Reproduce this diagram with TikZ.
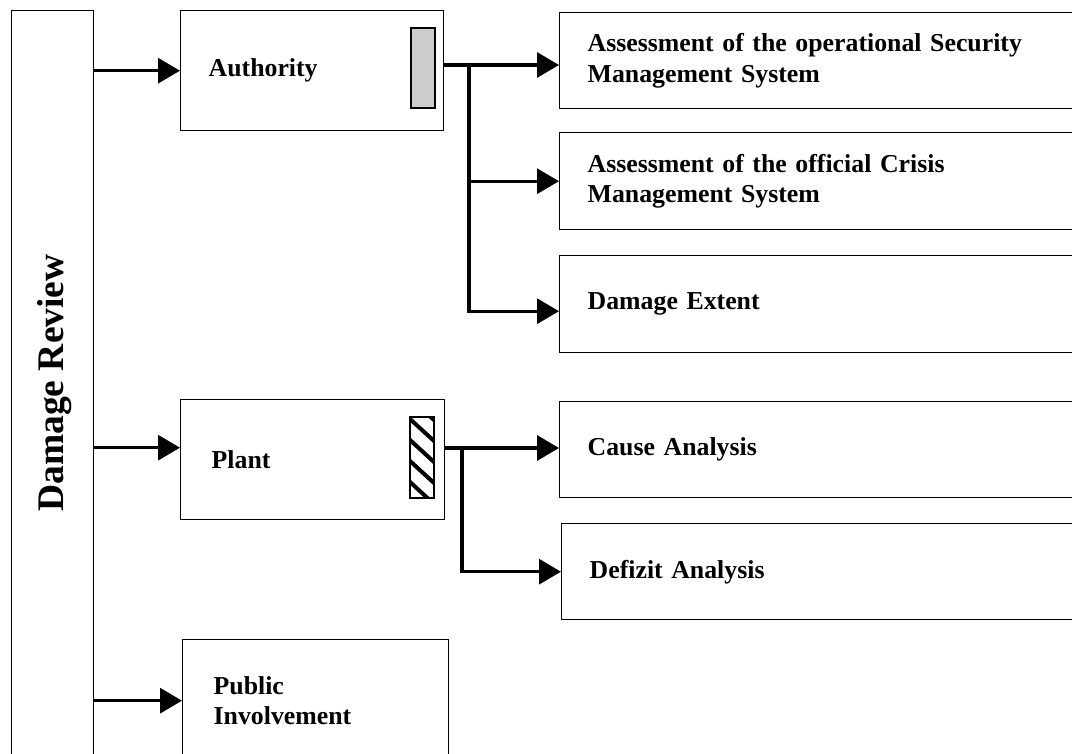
\documentclass[tikz,border=0pt]{standalone}
\usepackage{fontspec}
\setmainfont{Liberation Serif}
\usetikzlibrary{positioning,arrows.meta}

\begin{document}
\begin{tikzpicture}[x=1pt,y=-1pt,
    box/.style={draw,line width=1.4pt,anchor=north west,align=left,inner xsep=28pt,inner ysep=0pt,
      font=\fontsize{25.8}{30.5}\selectfont\bfseries},
    link/.style={line width=3.2pt,-{Triangle[length=22pt,width=25pt]}},
    trunk/.style={line width=3.2pt},
    flagbox/.style={draw,line width=1.4pt,minimum width=24pt,minimum height=80pt,inner sep=0pt}]
  \useasboundingbox (0,0) rectangle (1072,754);
  \clip (0,0) rectangle (1072,754);

  \node[box,minimum width=82pt,minimum height=800pt,inner sep=0pt] (review) at (11,10) {};
  \node[rotate=90,font=\fontsize{37.5}{40}\selectfont\bfseries] (reviewtext) at (55,383) {Damage Review};

  \node[box,text width=207pt,minimum height=120pt] (auth) at (180,10) {\raisebox{-4pt}{Authority}};
  \node[box,inner xsep=31pt,text width=202pt,minimum height=120pt] (plant) at (180,399) {Plant};
  \node[box,inner xsep=31pt,text width=204pt,minimum height=122pt] (public) at (182,639) {Public\\Involvement};

  \node[box,text width=480pt,minimum height=96pt] (sec) at (559,12) {Assessment of the operational Security\\Management System};
  \node[box,text width=480pt,minimum height=97pt] (crisis) at (559,132) {Assessment of the official Crisis\\Management System};
  \node[box,text width=480pt,minimum height=97pt] (extent) at (559,255) {Damage Extent};
  \node[box,text width=480pt,minimum height=96pt] (cause) at (559,401) {Cause Analysis};
  \node[box,text width=480pt,minimum height=96pt] (defizit) at (561,523) {Defizit Analysis};

  \node[flagbox,fill=gray!40] (authflag) at (423,68) {};
  \node[flagbox,minimum height=81pt,fill=white] (plantflag) at (422,457.5) {};
  \begin{scope}
    \clip (plantflag.north west) rectangle (plantflag.south east);
    \foreach \y in {398,419,...,490}
      \draw[line width=4pt] (404,\y-5.5) -- (440,\y+27.5);
  \end{scope}
  \draw[line width=1.4pt] (plantflag.north west) rectangle (plantflag.south east);

  \coordinate (pin) at ([yshift=12pt]plant.west);
  \draw[link] (review.east |- auth.west) -- (auth.west);
  \draw[link] (review.east |- pin) -- (pin);
  \draw[link] (review.east |- public.west) -- (public.west);

  \coordinate (asplit) at (469,65);
  \draw[trunk] (auth.east |- asplit) -- (asplit);
  \draw[link] (asplit) -- (asplit -| sec.west);
  \draw[link] (asplit) |- (crisis.west);
  \draw[link] (asplit) |- ([yshift=-7pt]extent.west);

  \coordinate (psplit) at (462,448);
  \draw[trunk] (plant.east |- psplit) -- (psplit);
  \draw[link] (psplit) -- (psplit -| cause.west);
  \draw[link] (psplit) |- (defizit.west);
\end{tikzpicture}
\end{document}
